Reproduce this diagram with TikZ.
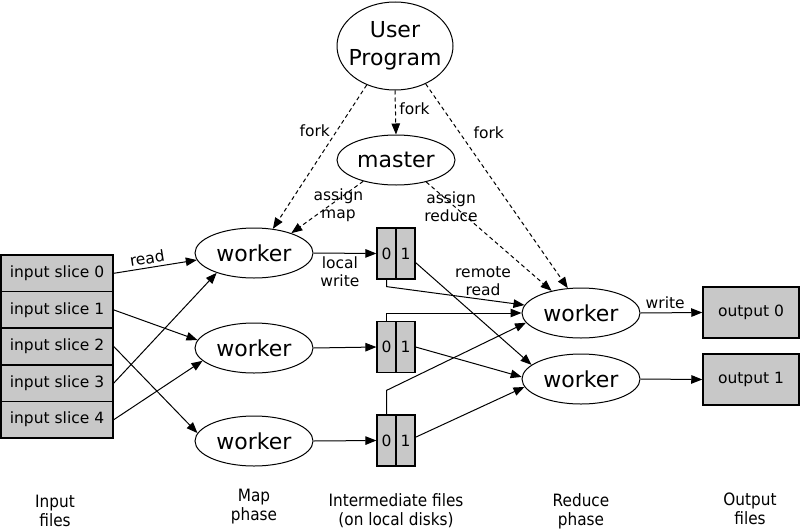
\documentclass[tikz,border=0pt]{standalone}
\usepackage{fontspec}
\setmainfont{DejaVu Sans}
\usetikzlibrary{arrows.meta,shapes.geometric}
\definecolor{boxgray}{RGB}{200,200,200}

\begin{document}
\begin{tikzpicture}[x=1pt,y=-1pt,>={Triangle[length=11pt,width=8.5pt]},line width=1pt,
    font=\fontsize{15.5}{18}\selectfont,
    big/.style={draw,ellipse,inner sep=0pt,font=\fontsize{22}{28}\selectfont},
    worker/.style={big,minimum width=118pt,minimum height=50pt},
    slice/.style={draw,rectangle,fill=boxgray,line width=1.5pt,inner sep=0pt,
      minimum width=112pt,minimum height=36.6pt},
    cell/.style={draw,rectangle,fill=boxgray,line width=1.2pt,inner sep=0pt,
      minimum width=19pt,minimum height=51pt},
    outfile/.style={draw,rectangle,fill=boxgray,line width=1.5pt,inner sep=0pt,
      minimum width=96pt,minimum height=51pt},
    ctrl/.style={dash pattern=on 4pt off 3pt},
    phase/.style={align=center,font=\fontsize{17}{19}\selectfont,xscale=.9}]
  \useasboundingbox (0,0) rectangle (800,530);

  % control
  \node (up) [big,minimum width=116pt,minimum height=88pt,inner xsep=-10pt,align=center]
    at (395,46) {User\\Program};
  \node (ms) [worker] at (396,160) {master};

  % input files
  \node (in0) [slice] at (57,273.3) {input slice 0};
  \node (in1) [slice] at (57,309.9) {input slice 1};
  \node (in2) [slice] at (57,346.5) {input slice 2};
  \node (in3) [slice] at (57,383.1) {input slice 3};
  \node (in4) [slice] at (57,419.7) {input slice 4};

  % map and reduce workers
  \node (w1) [worker] at (254,253) {worker};
  \node (w2) [worker] at (254,348) {worker};
  \node (w3) [worker] at (254,441) {worker};
  \node (r1) [worker] at (581,313) {worker};
  \node (r2) [worker] at (581,379) {worker};

  % intermediate files
  \node (b1a) [cell] at (386.5,253.5) {0};
  \node (b1b) [cell] at (405.5,253.5) {1};
  \node (b2a) [cell] at (386.5,347)   {0};
  \node (b2b) [cell] at (405.5,347)   {1};
  \node (b3a) [cell] at (386.5,440.5) {0};
  \node (b3b) [cell] at (405.5,440.5) {1};

  % output files
  \node (o0) [outfile] at (751,312.5) {output 0};
  \node (o1) [outfile] at (751,379.5) {output 1};

  \path[->,ctrl] (up.270) edge node[right,yshift=4pt] {fork} (ms.90)
                 (up.234) edge node[pos=.32,left=3pt] {fork} (w1.52)
                 (up.309) edge node[pos=.24,right=10pt] {fork} (r1.118)
                 (ms.213) edge node[pos=.47,xshift=9pt,align=center] {assign\\map} (w1.28)
                 (ms.324) edge node[pos=.23,xshift=-4pt,align=center] {assign\\reduce} (r1.143);

  \path[->] (in0.east) edge node[pos=.42,sloped,above] {read} (w1.187)
            (in1.east) edge (w2.172)
            (in2.east) edge (w3.172)
            (in3.east) edge (w1.208)
            (in4.east) edge (w2.194);

  \path[->] (w1.east) edge node[pos=.42,below,align=center] {local\\write} (b1a.west)
            (w2.east) edge (b2a.west)
            (w3.east) edge (b3a.west);

  \draw[->] (b1a.south) -- ++(0,7) -- node[pos=.7,above,align=center] {remote\\read} (r1.172);
  \draw[->] (b1b.-42) -- (r2.164);
  \draw[->] (b2a.north) |- (r1.west);
  \draw[->] (b2b.east) -- (r2.178);
  \draw[->] (b3a.north) -- ++(0,-24) -- (r1.190);
  \draw[->] (b3b.18) -- (r2.188);

  \path[->] (r1.east) edge node[pos=.4,above] {write} (o0.west)
            (r2.east) edge (o1.west);

  % phases
  \node (lin)  [phase] at (55,511)  {Input\\files};
  \node (lmap) [phase] at (254,507) {Map\\phase};
  \node (lmid) [phase] at (396,511) {Intermediate files\\(on local disks)};
  \node (lred) [phase] at (581,511) {Reduce\\phase};
  \node (lout) [phase] at (750,509) {Output\\files};
\end{tikzpicture}
\end{document}
